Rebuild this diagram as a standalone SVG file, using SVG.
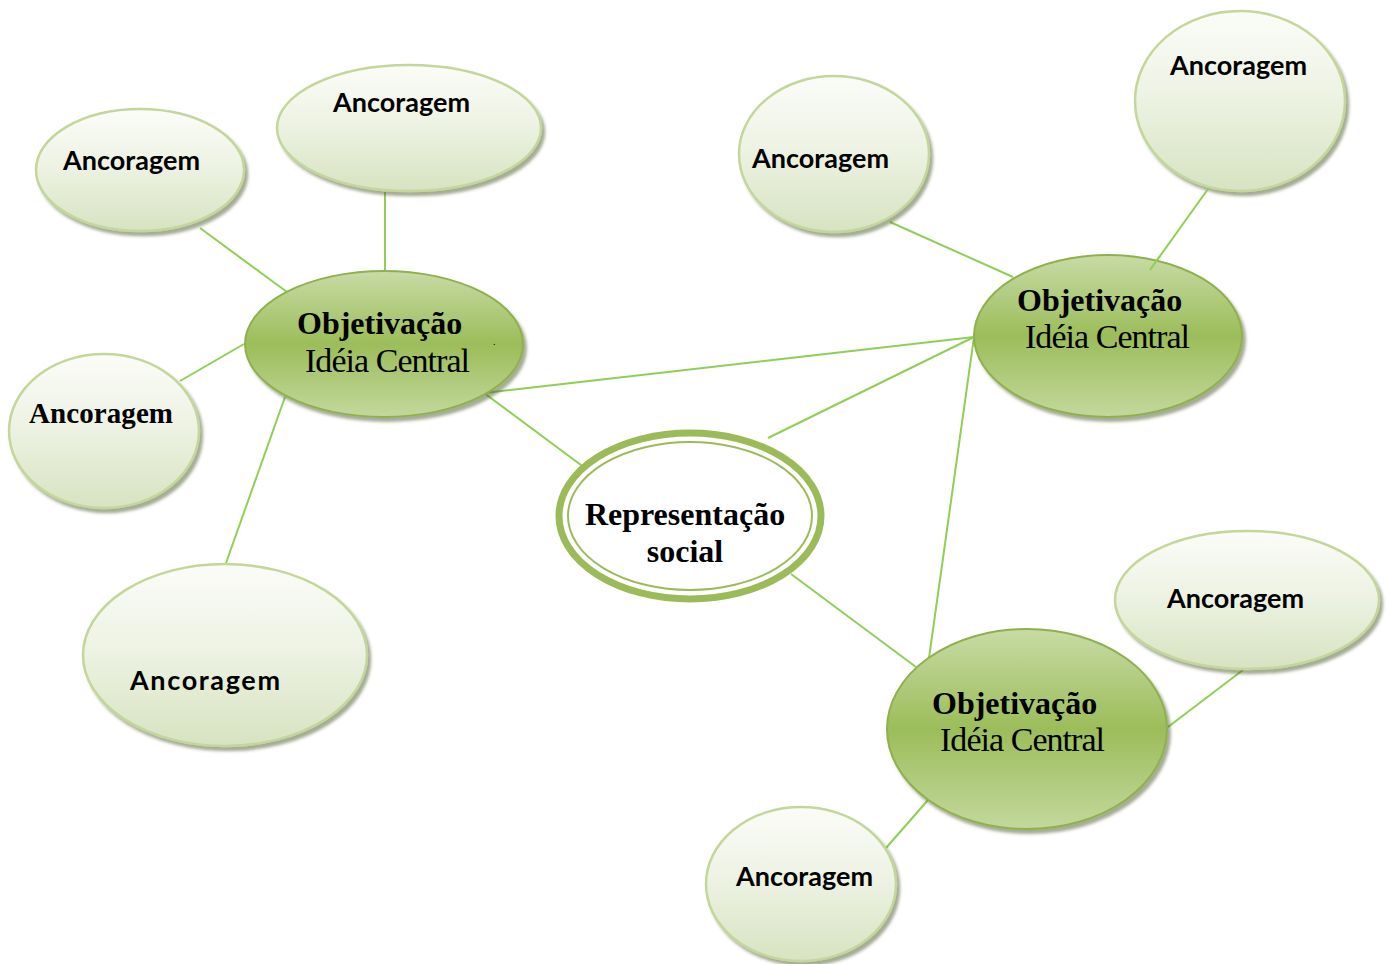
<svg xmlns="http://www.w3.org/2000/svg" width="1387" height="964" viewBox="0 0 1387 964">
<defs>
<linearGradient id="gLight" x1="0" y1="0" x2="0" y2="1">
<stop offset="0" stop-color="#fbfcf8"/>
<stop offset="0.45" stop-color="#eef3e4"/>
<stop offset="1" stop-color="#d7e3c1"/>
</linearGradient>
<linearGradient id="gDark" x1="0" y1="0" x2="0" y2="1">
<stop offset="0" stop-color="#c8dba5"/>
<stop offset="0.5" stop-color="#9cbd5a"/>
<stop offset="1" stop-color="#c3d89d"/>
</linearGradient>
<filter id="sh" x="-10%" y="-10%" width="125%" height="130%">
<feDropShadow dx="3" dy="4" stdDeviation="1.6" flood-color="#4a5a2a" flood-opacity="0.5"/>
</filter>
</defs>
<style>
.anc{fill:url(#gLight);stroke:#c3d69b;stroke-width:2.5;filter:url(#sh)}
.obj{fill:url(#gDark);stroke:#8fb04e;stroke-width:2;filter:url(#sh)}
.conn line{stroke:#8fcf55;stroke-width:2}
.ta{font-family:Lato,"Liberation Sans",sans-serif;font-weight:bold;font-size:27px;fill:#000}
.ts{font-family:"Liberation Serif",serif;font-weight:bold;fill:#000}
.tr{font-family:"Liberation Serif",serif;fill:#000}
</style>
<g id="connectors" class="conn">
<line x1="200" y1="228" x2="287" y2="292"/>
<line x1="385" y1="192" x2="385" y2="270"/>
<line x1="180" y1="381" x2="244" y2="344"/>
<line x1="226" y1="563" x2="285" y2="397"/>
<line x1="484" y1="393" x2="589" y2="471"/>
<line x1="484" y1="393" x2="974" y2="337"/>
<line x1="974" y1="337" x2="768" y2="438"/>
<line x1="974" y1="337" x2="929" y2="658"/>
<line x1="890" y1="222" x2="1013" y2="277"/>
<line x1="791" y1="574" x2="916" y2="667"/>
<line x1="1243" y1="670" x2="1168" y2="727"/>
<line x1="886" y1="848" x2="928" y2="800"/>
</g>
<g id="anc1"><ellipse class="anc" cx="140" cy="170" rx="104" ry="61"/><text class="ta" x="63" y="170" textLength="137">Ancoragem</text></g>
<g id="anc2"><ellipse class="anc" cx="409" cy="128" rx="132" ry="63"/><text class="ta" x="333" y="112" textLength="137">Ancoragem</text></g>
<g id="anc3"><ellipse class="anc" cx="104" cy="431" rx="95" ry="77"/><text class="ts" x="29" y="423" font-size="29" textLength="144">Ancoragem</text></g>
<g id="anc4"><ellipse class="anc" cx="225" cy="655" rx="142" ry="91"/><text class="ta" x="130" y="690" font-size="29" textLength="150">Ancoragem</text></g>
<g id="anc5"><ellipse class="anc" cx="834" cy="154" rx="95" ry="78"/><text class="ta" x="752" y="168" textLength="137">Ancoragem</text></g>
<g id="anc6"><ellipse class="anc" cx="1240" cy="101" rx="105" ry="90"/><text class="ta" x="1170" y="75" textLength="137">Ancoragem</text></g>
<g id="anc7"><ellipse class="anc" cx="1247" cy="600" rx="132" ry="69"/><text class="ta" x="1167" y="608" textLength="137">Ancoragem</text></g>
<g id="anc8"><ellipse class="anc" cx="801" cy="884" rx="95" ry="77"/><text class="ta" x="736" y="886" textLength="137">Ancoragem</text></g>
<line x1="1208" y1="189" x2="1150" y2="270" stroke="#8fcf55" stroke-width="2"/>
<g id="objA"><ellipse class="obj" cx="384" cy="344" rx="139" ry="73"/>
<text class="ts" x="297" y="334" font-size="32">Objetivação</text>
<text class="tr" x="305" y="372" font-size="34" textLength="165">Idéia Central</text>
<text class="tr" x="493" y="345" font-size="10">.</text></g>
<g id="objB"><ellipse class="obj" cx="1108" cy="336" rx="134" ry="81"/>
<text class="ts" x="1017" y="311" font-size="32">Objetivação</text>
<text class="tr" x="1025" y="348" font-size="34" textLength="165">Idéia Central</text></g>
<g id="objC"><ellipse class="obj" cx="1027" cy="729" rx="140" ry="100"/>
<text class="ts" x="932" y="714" font-size="32">Objetivação</text>
<text class="tr" x="940" y="751" font-size="34" textLength="165">Idéia Central</text></g>
<line x1="1150" y1="270" x2="1160" y2="256" stroke="#8fcf55" stroke-width="2"/>
<g id="rep">
<ellipse cx="690" cy="516" rx="131" ry="83" fill="#fff" stroke="#9bbb59" stroke-width="7"/>
<ellipse cx="690" cy="516" rx="122" ry="74" fill="none" stroke="#9bbb59" stroke-width="2"/>
<text class="ts" x="685" y="525" font-size="32" text-anchor="middle">Representação</text>
<text class="ts" x="685" y="562" font-size="32" text-anchor="middle">social</text>
</g>
</svg>
